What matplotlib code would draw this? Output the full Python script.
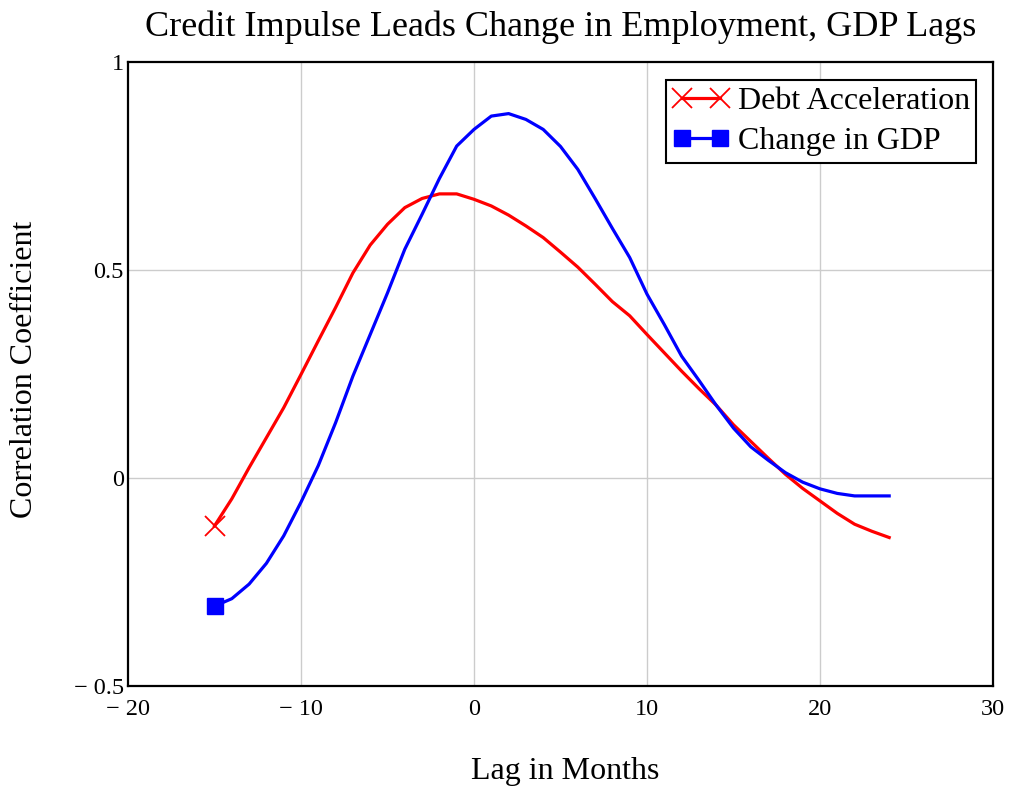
import matplotlib
matplotlib.use("Agg")
import matplotlib.pyplot as plt

lags = list(range(-15, 25))
debt_accel = [-0.115, -0.05, 0.025, 0.097, 0.169, 0.249, 0.33, 0.41, 0.493, 0.56,
              0.61, 0.65, 0.672, 0.683, 0.683, 0.67, 0.654, 0.632, 0.606, 0.578,
              0.543, 0.507, 0.466, 0.424, 0.39, 0.345, 0.301, 0.257, 0.215, 0.175,
              0.128, 0.088, 0.048, 0.009, -0.025, -0.055, -0.085, -0.111, -0.128, -0.143]
gdp_change = [-0.308, -0.29, -0.255, -0.205, -0.139, -0.058, 0.03, 0.133, 0.245, 0.345,
              0.445, 0.55, 0.634, 0.72, 0.798, 0.838, 0.87, 0.876, 0.862, 0.838,
              0.797, 0.742, 0.672, 0.60, 0.53, 0.442, 0.369, 0.293, 0.235, 0.175,
              0.12, 0.075, 0.043, 0.013, -0.01, -0.026, -0.037, -0.043, -0.043, -0.043]
xticks = [-20, -10, 0, 10, 20, 30]
xticklabels = ["\u2212 20", "\u2212 10", "0", "10", "20", "30"]
yticks = [-0.5, 0, 0.5, 1]
yticklabels = ["\u2212 0.5", "0", "0.5", "1"]

plt.rcParams['font.family'] = ['Liberation Serif', 'DejaVu Serif']

fig = plt.figure(figsize=(10.12, 7.87), dpi=100)
ax = fig.add_axes([0.1265, 0.1283, 0.8547, 0.7929])

ax.plot(lags, debt_accel, color='#ff0000', lw=2.3, marker='x', markevery=[0],
        ms=14, mew=1.3, label='Debt Acceleration')
ax.plot(lags, gdp_change, color='#0000ff', lw=2.3, marker='s', markevery=[0],
        ms=12, label='Change in GDP')

ax.set_xlim(-20, 30)
ax.set_ylim(-0.5, 1)
ax.set_xticks(xticks)
ax.set_xticklabels(xticklabels)
ax.set_yticks(yticks)
ax.set_yticklabels(yticklabels)
ax.tick_params(length=0, labelsize=17.5)
ax.tick_params(axis='x', pad=9)
ax.tick_params(axis='y', pad=3)

for x in [-10, 0, 10, 20]:
    ax.axvline(x, color='#cccccc', lw=1, zorder=0)
for y in [0, 0.5]:
    ax.axhline(y, color='#cccccc', lw=1, zorder=0)

for s in ax.spines.values():
    s.set_linewidth(1.6)
    s.set_color('black')

ax.set_title('Credit Impulse Leads Change in Employment, GDP Lags', fontsize=26, pad=19)
ax.set_xlabel('Lag in Months', fontsize=23)
ax.set_ylabel('Correlation Coefficient', fontsize=23)
ax.xaxis.set_label_coords((565 - 128) / 865, (686 - 757) / 624)
ax.yaxis.set_label_coords((39 - 128) / 865, (686 - 369) / 624)

leg = ax.legend(loc='upper right', bbox_to_anchor=(0.9805, 0.971), fontsize=23, numpoints=2,
                frameon=True, fancybox=False, edgecolor='black', framealpha=1,
                handlelength=1.8, handletextpad=0.25, borderpad=0.2, labelspacing=0.35,
                borderaxespad=0)
leg.get_frame().set_linewidth(1.5)

fig.savefig('out.png', dpi=100, facecolor='white')
